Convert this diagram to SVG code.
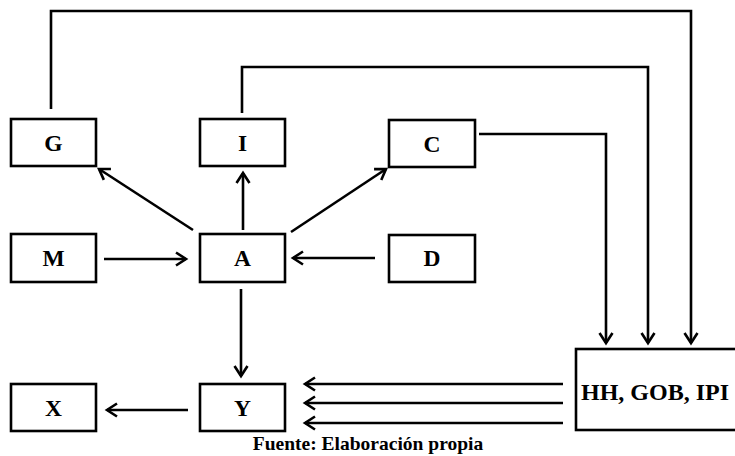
<svg xmlns="http://www.w3.org/2000/svg" width="735" height="456" viewBox="0 0 735 456">
<style>
.box{fill:#fff;stroke:#000;stroke-width:2.6}
.lbl{font-family:"Liberation Serif","Times New Roman",serif;font-weight:bold;font-size:23.5px;text-anchor:middle;fill:#000}
.con{fill:none;stroke:#000;stroke-width:2.6;marker-end:url(#ah)}
</style>
<defs>
<marker id="ah" markerUnits="userSpaceOnUse" viewBox="-12 -8 14 16" refX="0" refY="0" markerWidth="14" markerHeight="16" orient="auto" overflow="visible">
<path d="M-10,-6.5 L0,0 L-10,6.5" fill="none" stroke="#000" stroke-width="2.6"/>
</marker>
</defs>
<rect width="735" height="456" fill="#fff"/>
<g id="connectors">
<polyline class="con" points="51,109 51,11 691,11 691,343"/>
<polyline class="con" points="242,113 242,67 648,67 648,343"/>
<polyline class="con" points="479,134 606,134 606,343"/>
<line class="con" x1="193" y1="230" x2="99" y2="169"/>
<line class="con" x1="243" y1="230" x2="243" y2="173"/>
<line class="con" x1="291" y1="232" x2="386" y2="169"/>
<line class="con" x1="104" y1="259" x2="186" y2="259"/>
<line class="con" x1="375" y1="258" x2="293" y2="258"/>
<line class="con" x1="241" y1="289" x2="241" y2="376"/>
<line class="con" x1="188" y1="410" x2="107" y2="410"/>
<line class="con" x1="563" y1="384" x2="305" y2="384"/>
<line class="con" x1="563" y1="403" x2="305" y2="403"/>
<line class="con" x1="563" y1="423" x2="305" y2="423"/>
</g>
<g id="G"><rect class="box" x="11" y="119" width="85" height="47"/><text class="lbl" x="53.5" y="151">G</text></g>
<g id="I"><rect class="box" x="200" y="119" width="85" height="47"/><text class="lbl" x="242.5" y="151">I</text></g>
<g id="C"><rect class="box" x="389" y="120" width="86" height="47"/><text class="lbl" x="432" y="152">C</text></g>
<g id="M"><rect class="box" x="11" y="234" width="85" height="48"/><text class="lbl" x="53.5" y="266">M</text></g>
<g id="A"><rect class="box" x="200" y="234" width="85" height="48"/><text class="lbl" x="242.5" y="266">A</text></g>
<g id="D"><rect class="box" x="389" y="235" width="86" height="47"/><text class="lbl" x="432" y="266">D</text></g>
<g id="X"><rect class="box" x="11" y="384" width="85" height="47"/><text class="lbl" x="53.5" y="416">X</text></g>
<g id="Y"><rect class="box" x="200" y="384" width="85" height="47"/><text class="lbl" x="242.5" y="416">Y</text></g>
<g id="HH"><rect class="box" x="576" y="349" width="170" height="81"/><text class="lbl" x="655" y="400" style="font-size:24px">HH, GOB, IPI</text></g>
<text id="fuente" x="368" y="450" style="font-family:'Liberation Serif','Times New Roman',serif;font-weight:bold;font-size:19.5px;text-anchor:middle">Fuente: Elaboración propia</text>
</svg>
